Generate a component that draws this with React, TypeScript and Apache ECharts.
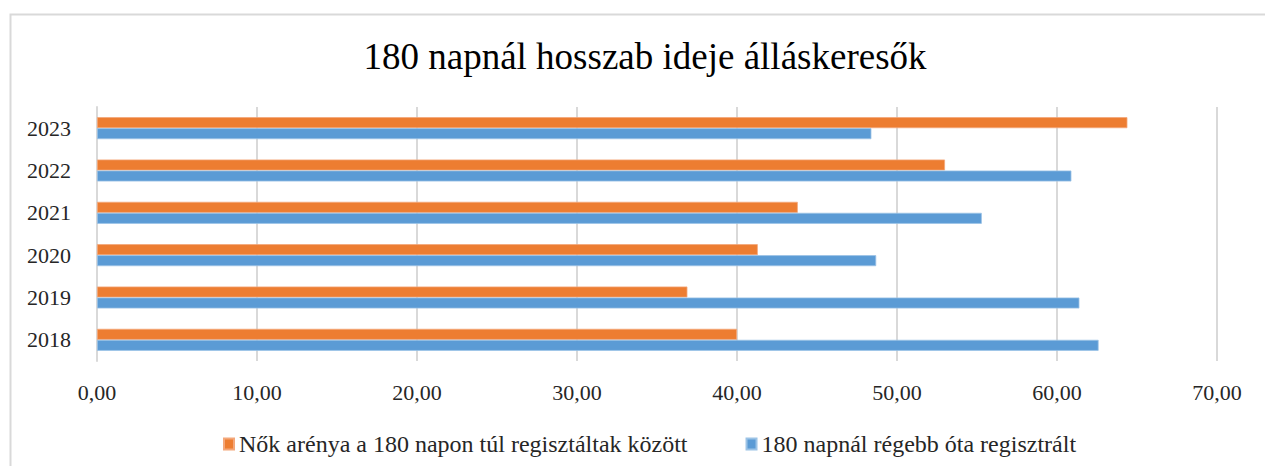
import React, { useEffect, useRef } from "react";
import * as echarts from "echarts";

const titleText = "180 napnál hosszab ideje álláskeresők";
const categories = ["2018", "2019", "2020", "2021", "2022", "2023"];
const seriesNames = [
  "Nők arénya a 180 napon túl regisztáltak között",
  "180 napnál régebb óta regisztrált",
];
const seriesColors = ["#ED7D31", "#5B9BD5"];
const womenShare = [40.0, 36.9, 41.3, 43.8, 53.0, 64.4];
const longTerm = [62.6, 61.4, 48.7, 55.3, 60.9, 48.4];
const xTicks = [0, 10, 20, 30, 40, 50, 60, 70];

export default function App() {
  const ref = useRef<HTMLDivElement>(null);
  useEffect(() => {
    if (!ref.current) return;
    const chart = echarts.init(ref.current, null, { renderer: "svg" });
    const font = "Liberation Serif";
    const labelText = {
      fontFamily: font,
      fontSize: 22,
      fontWeight: "normal",
      color: "#262626",
    };
    chart.setOption({
      animation: false,
      backgroundColor: "#ffffff",
      textStyle: { fontFamily: font, fontWeight: "normal" },
      title: {
        text: titleText,
        left: 640,
        textAlign: "center",
        top: 33,
        textStyle: { fontFamily: font, fontSize: 37, fontWeight: "normal", color: "#000000" },
      },
      graphic: [
        {
          type: "rect",
          shape: { x: 10.5, y: 14.5, width: 1300, height: 500 },
          style: { fill: "none", stroke: "#d9d9d9", lineWidth: 2 },
          silent: true,
        },
      ],
      legend: {
        data: seriesNames,
        top: 427,
        left: 218,
        itemWidth: 10,
        itemHeight: 11,
        itemGap: 58,
        icon: "rect",
        textStyle: { fontFamily: font, fontSize: 24, fontWeight: "normal", color: "#262626" },
      },
      grid: { left: 97, right: 48, top: 107, bottom: 105, containLabel: false },
      xAxis: {
        type: "value",
        min: xTicks[0],
        max: xTicks[xTicks.length - 1],
        interval: 10,
        axisLine: { show: false },
        axisTick: { show: false },
        splitLine: { show: true, lineStyle: { color: "#d9d9d9", width: 2 } },
        axisLabel: {
          ...labelText,
          margin: 20,
          formatter: (v: number) => v.toFixed(2).replace(".", ","),
        },
      },
      yAxis: {
        type: "category",
        data: categories,
        axisLine: { show: true, lineStyle: { color: "#d9d9d9", width: 2 } },
        axisTick: { show: false },
        splitLine: { show: false },
        axisLabel: { ...labelText, margin: 26 },
      },
      series: [
        {
          name: seriesNames[0],
          type: "bar",
          data: womenShare,
          barWidth: 11,
          barGap: "0%",
          itemStyle: { color: seriesColors[0], borderColor: "#f4a77a", borderWidth: 0.8 },
        },
        {
          name: seriesNames[1],
          type: "bar",
          data: longTerm,
          barWidth: 11,
          barGap: "0%",
          itemStyle: { color: seriesColors[1], borderColor: "#9cc3e6", borderWidth: 0.8 },
        },
      ],
    });
    return () => chart.dispose();
  }, []);
  return (
    <div
      ref={ref}
      style={{ position: "fixed", left: 0, top: 0, width: 1265, height: 466 }}
    />
  );
}
